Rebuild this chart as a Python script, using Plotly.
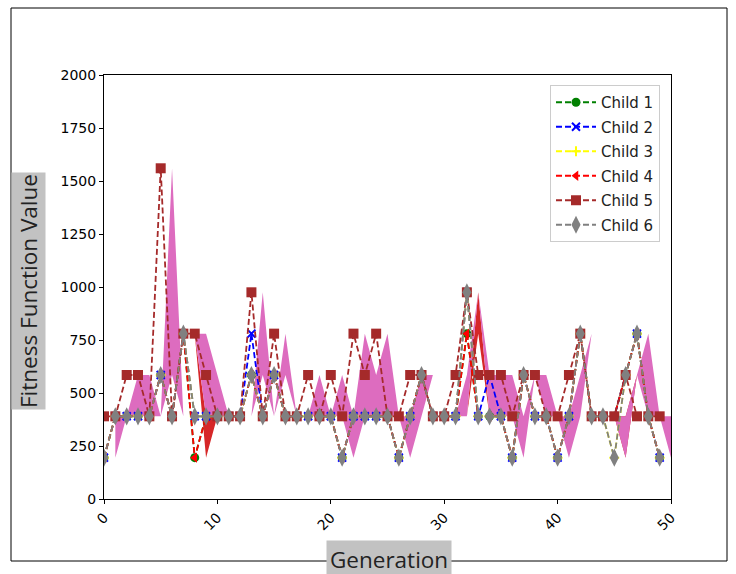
import numpy as np
import plotly.graph_objects as go

generations = list(range(50))
child1 = [195,390,390,390,390,585,390,780,195,390,390,390,390,585,390,585,390,390,390,390,
          390,195,390,390,390,390,195,390,585,390,390,390,780,390,390,390,195,585,390,390,
          195,390,780,390,390,390,585,780,390,195]
child2 = [195,390,390,390,390,585,390,780,390,390,390,390,390,780,390,585,390,390,390,390,
          390,195,390,390,390,390,195,390,585,390,390,390,975,390,585,390,195,585,390,390,
          195,390,780,390,390,390,585,780,390,195]
child3 = [195,390,390,390,390,585,390,780,390,390,390,390,390,585,390,585,390,390,390,390,
          390,195,390,390,390,390,195,390,585,390,390,390,975,390,390,390,195,585,390,390,
          195,390,780,390,390,195,585,780,390,195]
child4 = [195,390,390,390,390,585,390,780,195,390,390,390,390,585,390,585,390,390,390,390,
          390,195,390,390,390,390,195,390,585,390,390,390,780,390,390,390,195,585,390,390,
          195,390,780,390,390,390,585,780,390,195]
child5 = [390,390,585,585,390,1560,390,780,780,585,390,390,390,975,390,780,390,390,585,390,
          585,390,780,585,780,390,390,585,585,390,390,585,975,585,585,585,390,585,585,390,
          390,585,780,390,390,390,585,390,390,390]
child6 = [195,390,390,390,390,585,390,780,390,390,390,390,390,585,390,585,390,390,390,390,
          390,195,390,390,390,390,195,390,585,390,390,390,975,390,390,390,195,585,390,390,
          195,390,780,390,390,195,585,780,390,195]
names = ["Child 1", "Child 2", "Child 3", "Child 4", "Child 5", "Child 6"]
y_ticks = [0, 250, 500, 750, 1000, 1250, 1500, 1750, 2000]
x_ticks = [0, 10, 20, 30, 40, 50]

series = [child1, child2, child3, child4, child5, child6]
colors = ["green", "blue", "yellow", "red", "#a52a2a", "gray"]
symbols = ["circle", "x-thin", "cross-thin", "triangle-left", "square", "diamond-tall"]
msizes = [9, 8, 7, 9, 10, 13]

xs = np.array(generations) + 1

fig = go.Figure()

def band(a, b, color):
    a = np.array(a); b = np.array(b)
    hi = np.maximum(a, b); lo = np.minimum(a, b)
    fig.add_trace(go.Scatter(
        x=list(xs) + list(xs[::-1]), y=list(hi) + list(lo[::-1]),
        fill="toself", fillcolor=color, mode="none", showlegend=False, hoverinfo="skip"))

band(child4, child6, "rgb(214,39,40)")
band(child5, child6, "rgb(221,108,191)")

for i, (s, n, c, sym, ms) in enumerate(zip(series, names, colors, symbols, msizes)):
    mk = dict(symbol=sym, size=ms, color=c)
    if sym in ("x-thin", "cross-thin"):
        mk["line"] = dict(color=c, width=2)
    else:
        mk["line"] = dict(width=0)
    fig.add_trace(go.Scatter(
        x=generations, y=s, name=n, mode="lines+markers", legendgroup="g%d" % i,
        line=dict(color=c, width=1.8, dash="6px,3px"),
        marker=mk))

def px_x(px):
    return (px - 104) / 567

def px_y(py):
    return (499 - py) / 424

fig.add_shape(type="rect", xref="paper", yref="paper",
              x0=px_x(11), x1=px_x(727), y0=px_y(561), y1=px_y(8),
              line=dict(color="black", width=1), fillcolor="rgba(0,0,0,0)", layer="below")

fig.add_annotation(text="Generation", xref="paper", yref="paper",
                   x=px_x(389), y=px_y(559), showarrow=False,
                   font=dict(family="Open Sans", size=22.5, color="#222"),
                   bgcolor="#c2c2c2", borderpad=3, xanchor="center", yanchor="middle")
fig.add_annotation(text="Fitness Function Value", xref="paper", yref="paper",
                   x=px_x(28), y=px_y(291), showarrow=False, textangle=-90,
                   font=dict(family="Open Sans", size=22.5, color="#222"),
                   bgcolor="#c2c2c2", borderpad=1, xanchor="center", yanchor="middle")

axis_common = dict(showgrid=False, zeroline=False, showline=True, linecolor="black",
                   linewidth=1, mirror=True, ticks="outside", ticklen=4, tickcolor="black",
                   tickfont=dict(family="DejaVu Sans", size=14, color="black"))
fig.update_xaxes(range=[0, 50], tickvals=x_ticks, tickangle=-45, **axis_common)
fig.update_yaxes(range=[0, 2000], tickvals=y_ticks, **axis_common)

fig.update_layout(
    width=736, height=574,
    margin=dict(l=104, r=65, t=75, b=75),
    paper_bgcolor="white", plot_bgcolor="white",
    legend=dict(x=px_x(550), y=px_y(85), xanchor="left", yanchor="top",
                bgcolor="white", bordercolor="#cccccc", borderwidth=1,
                tracegroupgap=2, itemwidth=40,
                font=dict(family="DejaVu Sans", size=15, color="#222")),
)

fig.write_html("out.html", config={"displayModeBar": False},
               post_script="document.body.style.margin='0px';document.body.style.overflow='hidden';")
